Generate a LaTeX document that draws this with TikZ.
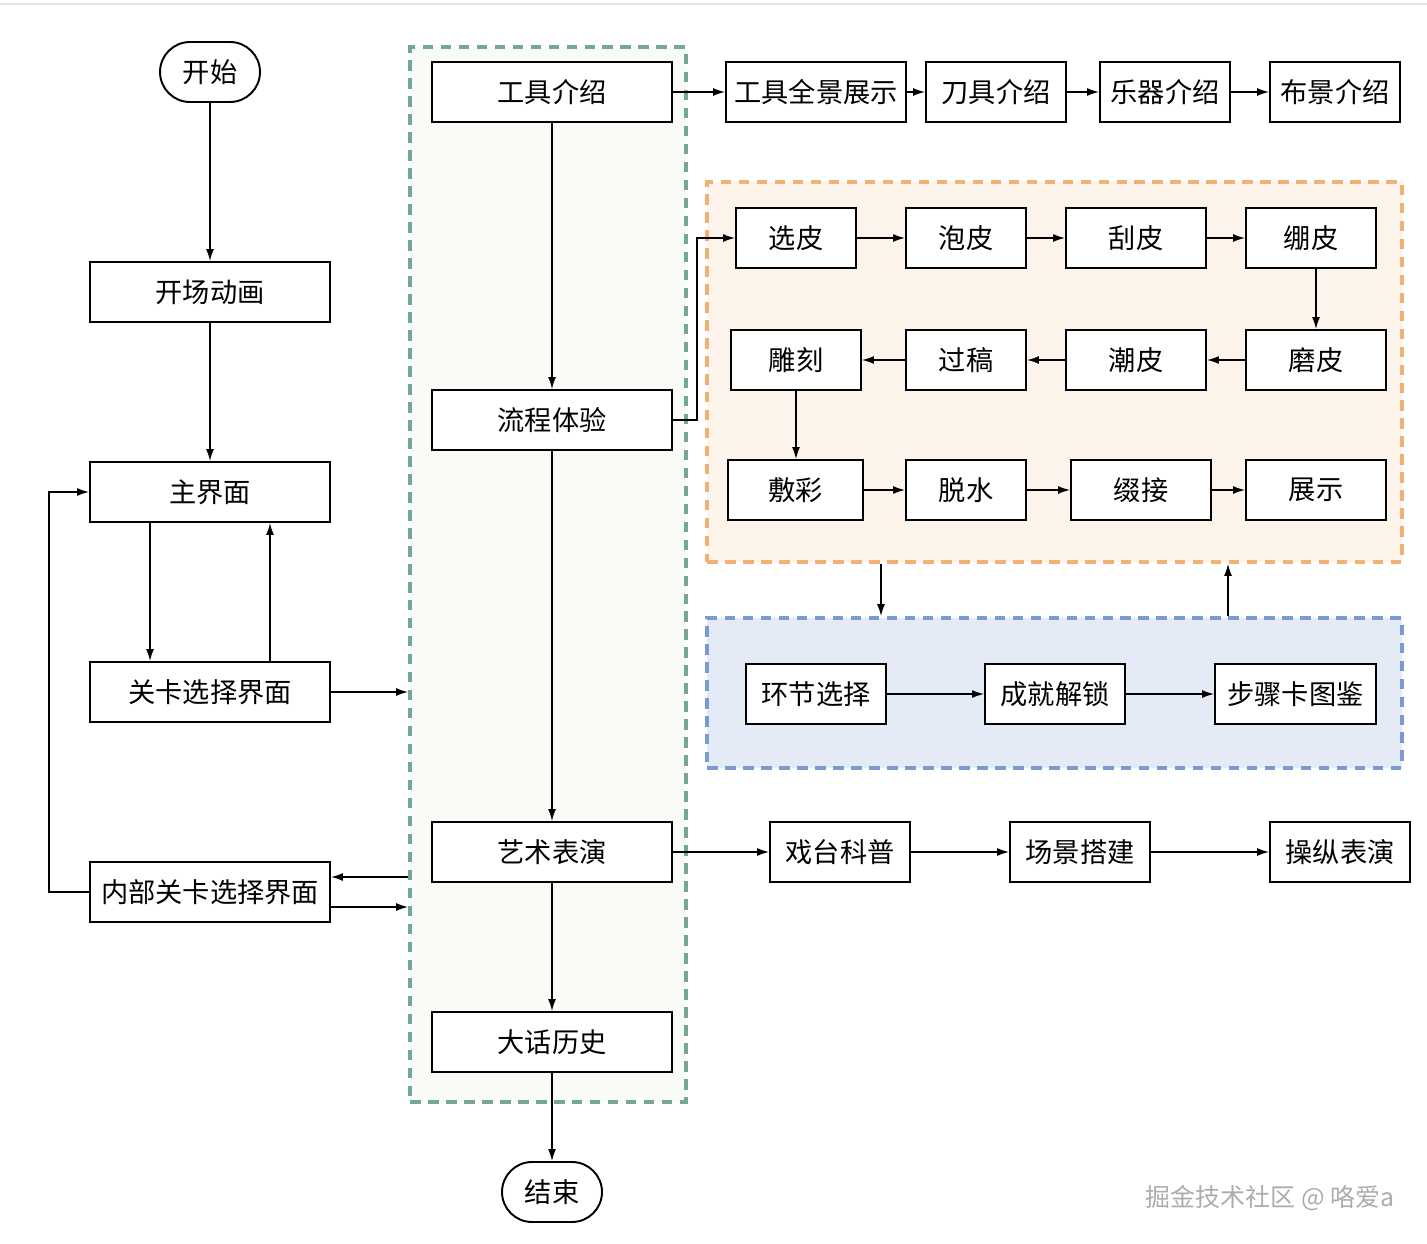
\documentclass[tikz,border=0pt]{standalone}
\usepackage{fontspec}
\setmainfont{Noto Sans CJK SC}
\usetikzlibrary{arrows.meta}

\definecolor{grnline}{HTML}{74A893}
\definecolor{grnfill}{HTML}{F9FCF6}
\definecolor{orgline}{HTML}{EFB274}
\definecolor{orgfill}{HTML}{FCF4EA}
\definecolor{bluline}{HTML}{7B9AD1}
\definecolor{blufill}{HTML}{E4EBF7}

\tikzset{
  box/.style={draw, line width=1.1pt, fill=white, minimum height=1.2cm, inner sep=0pt,
    font=\fontsize{15.5pt}{18pt}\selectfont},
  term/.style={box, rounded corners=0.6cm, minimum width=2cm},
  arr/.style={-{Latex[length=2.4mm,width=1.6mm]}, line width=0.8pt},
  grp/.style={dash pattern=on 0.21cm off 0.15cm, line width=2.2pt, inner sep=0pt}
}

\begin{document}
\begin{tikzpicture}[x=0.02cm,y=-0.02cm]

\useasboundingbox (0,0) rectangle (1427,1244) ;
\draw[gray!20, line width=1.5pt] (0,4) -- (1427,4) ;

% groups
\node[grp, draw=grnline, fill=grnfill, minimum width=5.52cm, minimum height=21.1cm] (green) at (548,574.5) {} ;
\node[grp, draw=orgline, fill=orgfill, minimum width=13.9cm, minimum height=7.6cm] (orange) at (1054.5,372) {} ;
\node[grp, draw=bluline, fill=blufill, minimum width=13.9cm, minimum height=3cm] (blue) at (1054.5,693) {} ;

% left column
\node[term] (start) at (210,72) {开始} ;
\node[box, minimum width=4.8cm] (kcdh) at (210,292) {开场动画} ;
\node[box, minimum width=4.8cm] (zjm) at (210,492) {主界面} ;
\node[box, minimum width=4.8cm] (gkxz) at (210,692) {关卡选择界面} ;
\node[box, minimum width=4.8cm] (nbgk) at (210,892) {内部关卡选择界面} ;

% middle column
\node[box, minimum width=4.8cm] (gjjs) at (552,92) {工具介绍} ;
\node[box, minimum width=4.8cm] (lctj) at (552,420) {流程体验} ;
\node[box, minimum width=4.8cm] (ysby) at (552,852) {艺术表演} ;
\node[box, minimum width=4.8cm] (dhls) at (552,1042) {大话历史} ;
\node[term] (end) at (552,1192) {结束} ;

% tools row
\node[box, minimum width=3.6cm] (qjzs) at (816,92) {工具全景展示} ;
\node[box, minimum width=2.8cm] (djjs) at (996,92) {刀具介绍} ;
\node[box, minimum width=2.6cm] (yqjs) at (1165,92) {乐器介绍} ;
\node[box, minimum width=2.6cm] (bjjs) at (1335,92) {布景介绍} ;

% process
\node[box, minimum width=2.4cm] (xuanpi) at (796,238) {选皮} ;
\node[box, minimum width=2.4cm] (paopi) at (966,238) {泡皮} ;
\node[box, minimum width=2.8cm] (guapi) at (1136,238) {刮皮} ;
\node[box, minimum width=2.6cm] (bengpi) at (1311,238) {绷皮} ;
\node[box, minimum width=2.6cm] (diaoke) at (796,360) {雕刻} ;
\node[box, minimum width=2.4cm] (guogao) at (966,360) {过稿} ;
\node[box, minimum width=2.8cm] (chaopi) at (1136,360) {潮皮} ;
\node[box, minimum width=2.8cm] (mopi) at (1316,360) {磨皮} ;
\node[box, minimum width=2.7cm] (fucai) at (795.5,490) {敷彩} ;
\node[box, minimum width=2.4cm] (tuoshui) at (966,490) {脱水} ;
\node[box, minimum width=2.8cm] (zhuijie) at (1141,490) {缀接} ;
\node[box, minimum width=2.8cm] (zhanshi) at (1316,490) {展示} ;

% extras
\node[box, minimum width=2.8cm] (hjxz) at (816,694) {环节选择} ;
\node[box, minimum width=2.8cm] (cjjs) at (1055,694) {成就解锁} ;
\node[box, minimum width=3.22cm] (bzktj) at (1295.5,694) {步骤卡图鉴} ;

% performance row
\node[box, minimum width=2.8cm] (xtkp) at (840,852) {戏台科普} ;
\node[box, minimum width=2.8cm] (cjdj) at (1080,852) {场景搭建} ;
\node[box, minimum width=2.8cm] (czby) at (1340,852) {操纵表演} ;

\node[text=gray!65, font=\fontsize{14.2pt}{16pt}\selectfont] (mark) at (1270,1198) {掘金技术社区 @ 咯爱a} ;

% left connectors
\draw[arr] (start) -- (kcdh) ;
\draw[arr] (kcdh) -- (zjm) ;
\draw[arr] ([xshift=-1.2cm]zjm.south) -- ([xshift=-1.2cm]gkxz.north) ;
\draw[arr] ([xshift=1.2cm]gkxz.north) -- ([xshift=1.2cm]zjm.south) ;
\draw[arr] (gkxz.east) -- (gkxz.east -| green.west) ;
\coordinate (nin) at ([yshift=0.3cm]nbgk.east) ;
\coordinate (nout) at ([yshift=-0.3cm]nbgk.east) ;
\draw[arr] (nin -| green.west) -- (nin) ;
\draw[arr] (nout) -- (nout -| green.west) ;
\draw[arr] (nbgk.west) -- ++(-40,0) |- (zjm.west) ;

% middle connectors
\draw[arr] (gjjs) -- (lctj) ;
\draw[arr] (lctj) -- (ysby) ;
\draw[arr] (ysby) -- (dhls) ;
\draw[arr] (dhls) -- (end) ;

\draw[arr] (gjjs) -- (qjzs) ;
\draw[arr] (qjzs) -- (djjs) ;
\draw[arr] (djjs) -- (yqjs) ;
\draw[arr] (yqjs) -- (bjjs) ;

\draw[arr] (lctj.east) -- ++(24,0) |- (xuanpi.west) ;
\draw[arr] (xuanpi) -- (paopi) ;
\draw[arr] (paopi) -- (guapi) ;
\draw[arr] (guapi) -- (bengpi) ;
\draw[arr] (mopi.north |- bengpi.south) -- (mopi.north) ;
\draw[arr] (mopi) -- (chaopi) ;
\draw[arr] (chaopi) -- (guogao) ;
\draw[arr] (guogao) -- (diaoke) ;
\draw[arr] (diaoke.south) -- (diaoke.south |- fucai.north) ;
\draw[arr] (fucai) -- (tuoshui) ;
\draw[arr] (tuoshui) -- (zhuijie) ;
\draw[arr] (zhuijie) -- (zhanshi) ;

\coordinate (dn) at (881,590) ;
\coordinate (up) at (1228,590) ;
\draw[arr] (orange.south -| dn) -- (blue.north -| dn) ;
\draw[arr] (blue.north -| up) -- (orange.south -| up) ;
\draw[arr] (hjxz) -- (cjjs) ;
\draw[arr] (cjjs) -- (bzktj) ;

\draw[arr] (ysby) -- (xtkp) ;
\draw[arr] (xtkp) -- (cjdj) ;
\draw[arr] (cjdj) -- (czby) ;

\end{tikzpicture}
\end{document}
